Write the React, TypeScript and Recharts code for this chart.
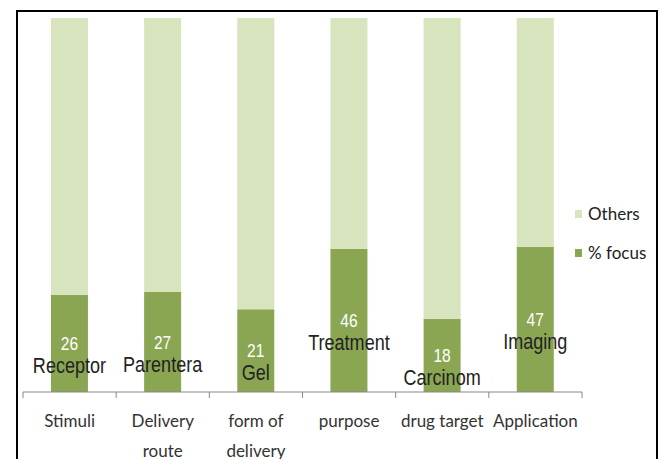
import React from 'react';
import { BarChart, Bar, XAxis, YAxis, Legend, LabelList } from 'recharts';

const categories = ['Stimuli', 'Delivery\nroute', 'form of\ndelivery', 'purpose', 'drug target', 'Application'];
const focus = [26, 27, 21, 46, 18, 47];
const others = [74, 74, 74, 74, 74, 74];
const tags = ['Receptor', 'Parentera', 'Gel', 'Treatment', 'Carcinom', 'Imaging'];
const legendItems = ['Others', '% focus'];

// 100% stacked: each bar is focus / (focus + others)
const data = categories.map((name, i) => ({ name, focus: focus[i], others: others[i] }));

const W = 665;
const H = 459;
const LEFT = 23;
const RIGHT = 83;
const TOP = 18;
const AXIS_H = 67;
const band = (W - LEFT - RIGHT) / categories.length;

const DARK = '#8AA652';
const LIGHT = '#D7E4BD';
const narrow = '"Liberation Sans Narrow", "Liberation Sans", Arial, sans-serif';
const sans = 'Lato, "Open Sans", sans-serif';

function CategoryTick(props: any) {
    const { x, y, payload, index } = props;
    const lines = String(payload.value).split('\n');
    const left = x - band / 2;
    return <g>
        <line x1={left} y1={y - 8} x2={left} y2={y - 2} stroke="#888" />
        {index === categories.length - 1 &&
            <line x1={left + band} y1={y - 8} x2={left + band} y2={y - 2} stroke="#888" />}
        {lines.map((l, i) =>
            <text key={i} x={x} y={y + 20 + i * 30} textAnchor="middle" dominantBaseline="central"
                fontFamily={sans} fontSize={17} fill="#333">{l}</text>)}
    </g>;
}

function NarrowText({ x, y, size, fill, children }: any) {
    return <text transform={`translate(${x},${y}) scale(0.82,1)`} textAnchor="middle" dominantBaseline="central"
        fontFamily={narrow} fontSize={size} fill={fill}>{children}</text>;
}

function FocusLabel(props: any) {
    const { x, y, width, height, index } = props;
    const cx = x + width / 2;
    const vy = y + height / 2;
    return <g>
        <NarrowText x={cx} y={vy} size={19} fill="#fff">{focus[index]}</NarrowText>
        <NarrowText x={cx} y={vy + 22} size={22} fill="#222">{tags[index]}</NarrowText>
    </g>;
}

function LegendBox() {
    const colors = [LIGHT, DARK];
    return <div style={{ fontFamily: sans, fontSize: 17, color: '#222' }}>
        {legendItems.map((v, i) =>
            <div key={v} style={{ display: 'flex', alignItems: 'center', height: 39 }}>
                <span style={{ display: 'inline-block', width: 7, height: 8, background: colors[i], marginRight: 6 }} />
                {v}
            </div>)}
    </div>;
}

export default function App() {
    return <div style={{ position: 'absolute', left: 0, top: 0, width: W, height: H, background: '#fff', overflow: 'hidden' }}>
        <div style={{ position: 'absolute', left: 16, top: 10, width: 638, height: 470, border: '2px solid #000' }} />
        <div style={{ position: 'absolute', left: 0, top: 0 }}>
            <BarChart width={W} height={H} data={data} barCategoryGap="30%" stackOffset="expand"
                margin={{ top: TOP, right: RIGHT, left: LEFT, bottom: 0 }}>
                <XAxis dataKey="name" height={AXIS_H} interval={0} tickLine={false}
                    axisLine={{ stroke: '#888' }} tick={<CategoryTick />} />
                <YAxis hide />
                <Legend layout="vertical" align="center" verticalAlign="middle"
                    wrapperStyle={{ position: 'absolute', left: 575, top: 194, width: 85 }}
                    content={<LegendBox />} />
                <Bar dataKey="focus" stackId="a" name="% focus" fill={DARK} isAnimationActive={false}>
                    <LabelList dataKey="focus" content={<FocusLabel />} />
                </Bar>
                <Bar dataKey="others" stackId="a" name="Others" fill={LIGHT} isAnimationActive={false} />
            </BarChart>
        </div>
    </div>;
}
